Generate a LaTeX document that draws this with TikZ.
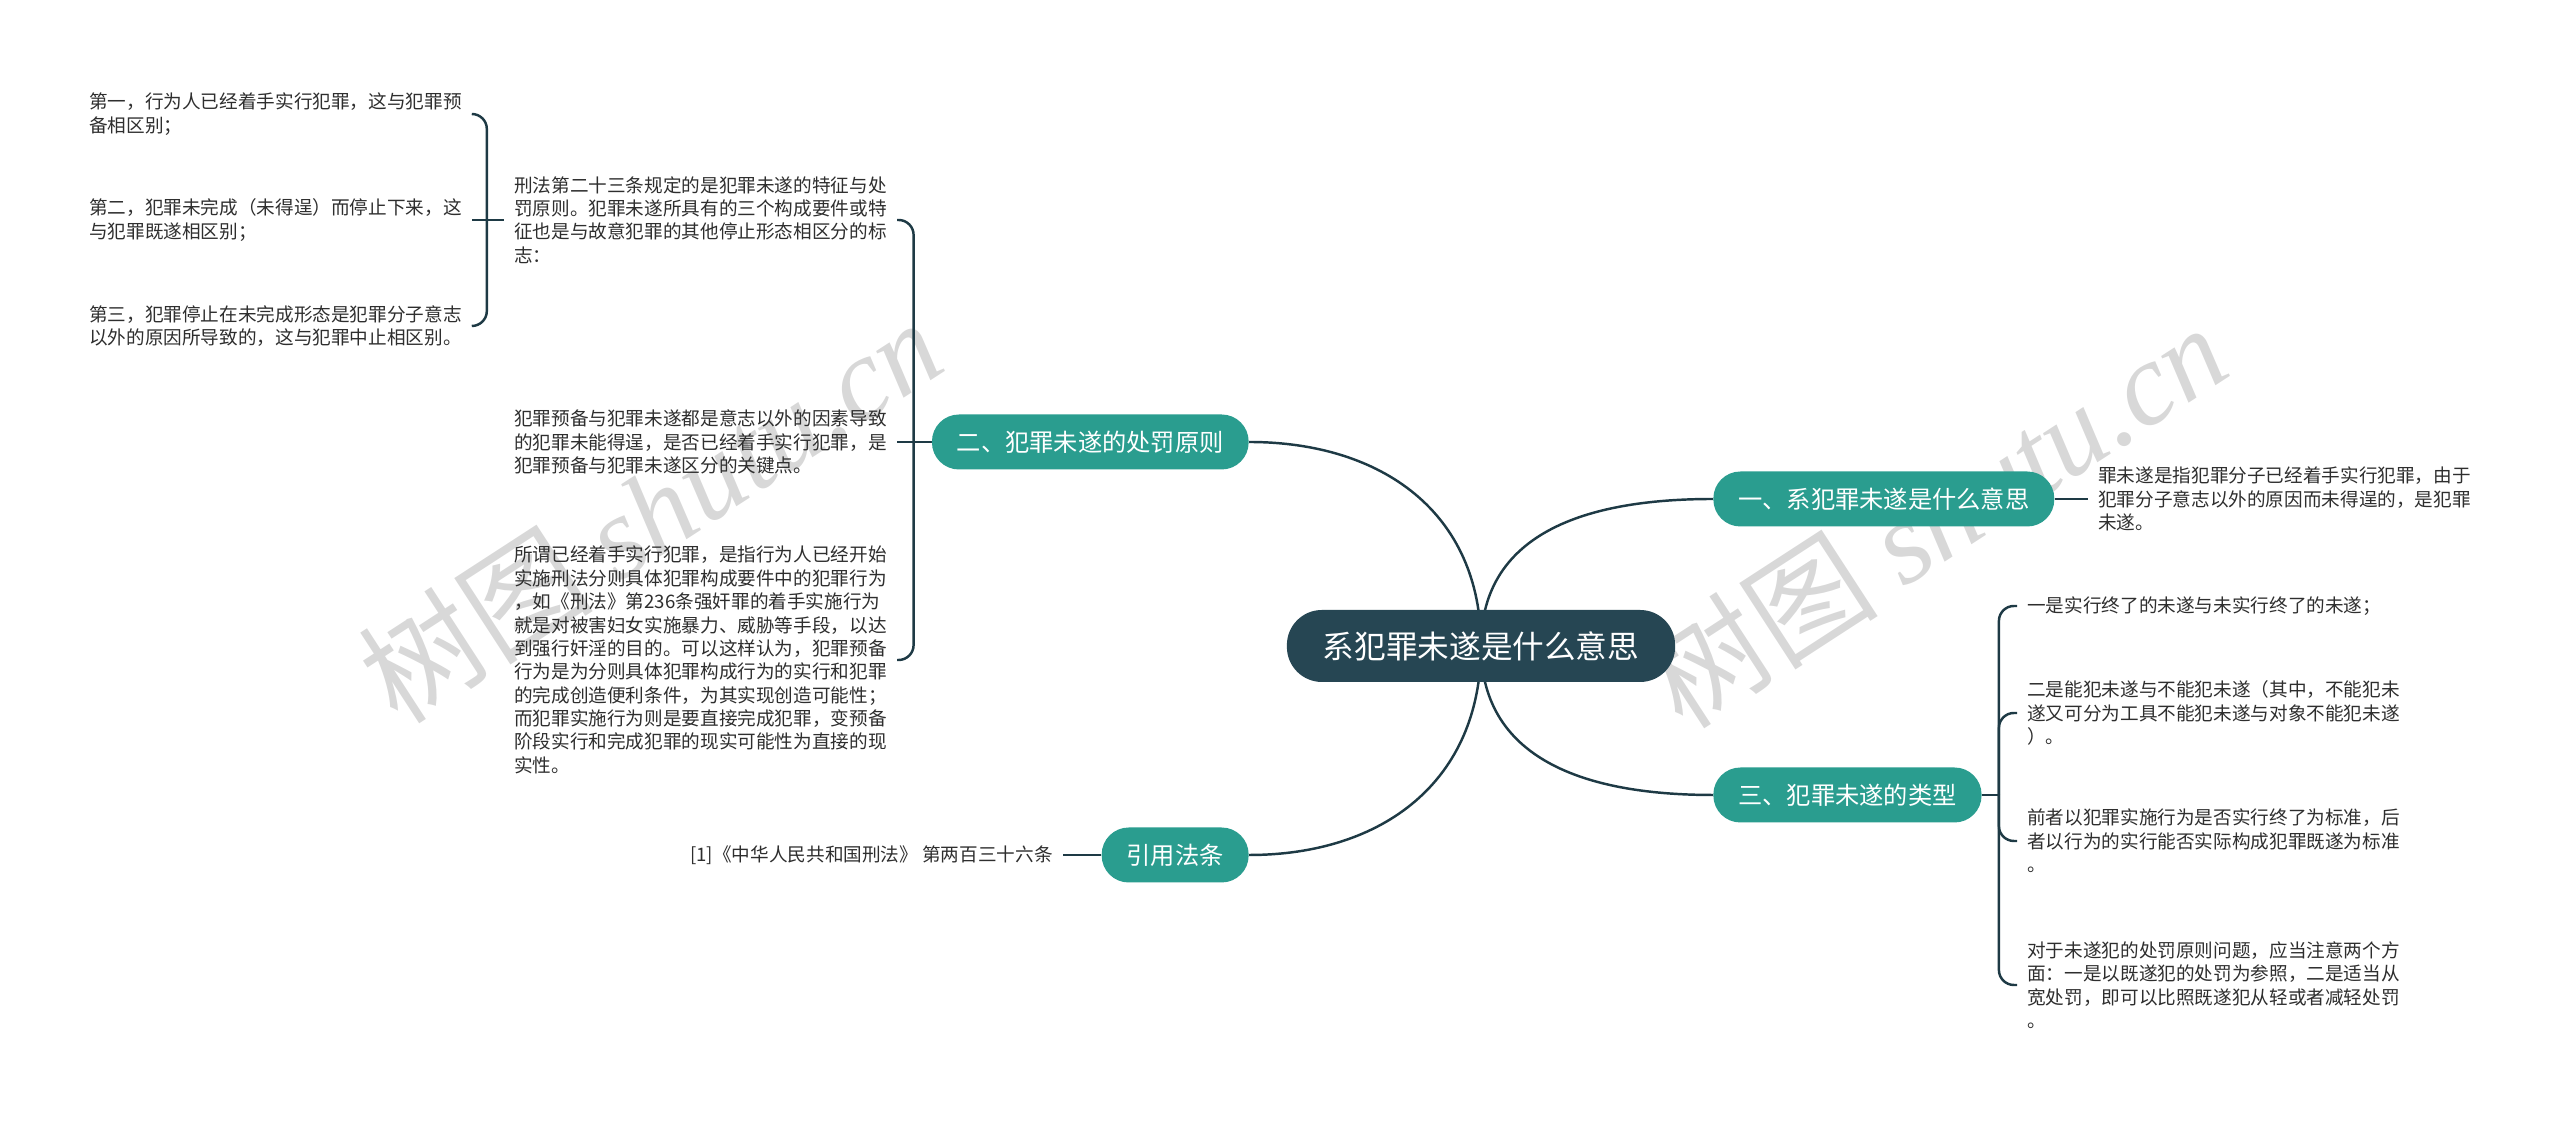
\documentclass[tikz,border=0pt]{standalone}
\usepackage{fontspec}
\setmainfont{Noto Sans CJK SC}
\newfontfamily\wmlatin{Liberation Serif}
\usepackage{tikz}
\usetikzlibrary{backgrounds}
\definecolor{rootbg}{HTML}{264653}
\definecolor{topicbg}{HTML}{2A9D8F}
\definecolor{linkc}{HTML}{1E3A45}
\definecolor{leaftxt}{HTML}{2E2E2E}
\definecolor{wmgray}{HTML}{D8D8D8}

\begin{document}
\begin{tikzpicture}[x=0.02cm,y=0.02cm,
  root/.style={fill=rootbg,text=white,rounded corners=0.7cm,minimum height=1.44cm,inner xsep=0.72cm,font=\fontsize{18pt}{20pt}\selectfont},
  topic/.style={fill=topicbg,text=white,rounded corners=0.54cm,minimum height=1.1cm,inner xsep=0.5cm,font=\fontsize{13.8pt}{16pt}\selectfont},
  leaf/.style={text=leaftxt,align=left,inner xsep=0.2cm,inner ysep=0pt,font=\fontsize{10.6pt}{13.3pt}\selectfont},
  link/.style={draw=linkc,line width=1.4pt},
  bracket/.style={link,rounded corners=0.3cm},
  wm/.style={text=wmgray,rotate=33,font=\fontsize{67pt}{67pt}\selectfont}]
 \useasboundingbox (0,0) rectangle (2560,1121);
 % centre and main topics
 \node[root] (ctr) at (1481,475) {系犯罪未遂是什么意思};
 \node[topic,anchor=east] (pen) at (1249,679) {二、犯罪未遂的处罚原则};
 \node[topic,anchor=west] (mean) at (1713,622) {一、系犯罪未遂是什么意思};
 \node[topic,anchor=west] (kind) at (1713,326) {三、犯罪未遂的类型};
 \node[topic,anchor=east] (cite) at (1249,266) {引用法条};
 % left side leaves
 \node[leaf,anchor=east] (art) at (897,901) {刑法第二十三条规定的是犯罪未遂的特征与处\\罚原则。犯罪未遂所具有的三个构成要件或特\\征也是与故意犯罪的其他停止形态相区分的标\\志：};
 \node[leaf,anchor=east] (c1) at (472,1007) {第一，行为人已经着手实行犯罪，这与犯罪预\\备相区别；};
 \node[leaf,anchor=east] (c2) at (472,901) {第二，犯罪未完成（未得逞）而停止下来，这\\与犯罪既遂相区别；};
 \node[leaf,anchor=east] (c3) at (472,795) {第三，犯罪停止在未完成形态是犯罪分子意志\\以外的原因所导致的，这与犯罪中止相区别。};
 \node[leaf,anchor=east] (prep) at (897,679) {犯罪预备与犯罪未遂都是意志以外的因素导致\\的犯罪未能得逞，是否已经着手实行犯罪，是\\犯罪预备与犯罪未遂区分的关键点。};
 \node[leaf,anchor=east] (act) at (897,461) {所谓已经着手实行犯罪，是指行为人已经开始\\实施刑法分则具体犯罪构成要件中的犯罪行为\\，如《刑法》第236条强奸罪的着手实施行为\\就是对被害妇女实施暴力、威胁等手段，以达\\到强行奸淫的目的。可以这样认为，犯罪预备\\行为是为分则具体犯罪构成行为的实行和犯罪\\的完成创造便利条件，为其实现创造可能性；\\而犯罪实施行为则是要直接完成犯罪，变预备\\阶段实行和完成犯罪的现实可能性为直接的现\\实性。};
 \node[leaf,anchor=east] (law) at (1063,266) {[1]《中华人民共和国刑法》 第两百三十六条};
 % right side leaves
 \node[leaf,anchor=west] (def) at (2088,622) {罪未遂是指犯罪分子已经着手实行犯罪，由于\\犯罪分子意志以外的原因而未得逞的，是犯罪\\未遂。};
 \node[leaf,anchor=west] (k1) at (2017,515) {一是实行终了的未遂与未实行终了的未遂；};
 \node[leaf,anchor=west] (k2) at (2017,408) {二是能犯未遂与不能犯未遂（其中，不能犯未\\遂又可分为工具不能犯未遂与对象不能犯未遂\\）。};
 \node[leaf,anchor=west] (k3) at (2017,280) {前者以犯罪实施行为是否实行终了为标准，后\\者以行为的实行能否实际构成犯罪既遂为标准\\。};
 \node[leaf,anchor=west] (k4) at (2017,136) {对于未遂犯的处罚原则问题，应当注意两个方\\面：一是以既遂犯的处罚为参照，二是适当从\\宽处罚，即可以比照既遂犯从轻或者减轻处罚\\。};
 \begin{scope}[on background layer]
  \node[wm] (wm1) at (650,611) {树图 {\wmlatin\itshape shutu.cn}};
  \node[wm] (wm2) at (1935,606) {树图 {\wmlatin\itshape shutu.cn}};
  \foreach \t/\a/\b in {pen.east/90/0,mean.west/90/180,kind.west/-90/180,cite.east/-90/0}
   \draw[link] (ctr.center) to[out=\a,in=\b,looseness=1.1] (\t);
  \draw[link] (pen.west) -- ++(-18,0) coordinate (b2);
  \foreach \c in {art,act} \draw[bracket] (b2) |- (\c.east);
  \draw[link] (b2) -- (prep.east);
  \draw[link] (art.west) -- ++(-17,0) coordinate (b1);
  \foreach \c in {c1,c3} \draw[bracket] (b1) |- (\c.east);
  \draw[link] (b1) -- (c2.east);
  \draw[link] (kind.east) -- ++(17,0) coordinate (b3);
  \foreach \c in {k1,k2,k3,k4} \draw[bracket] (b3) |- (\c.west);
  \draw[link] (mean.east) -- (def.west);
  \draw[link] (cite.west) -- (law.east);
 \end{scope}
\end{tikzpicture}
\end{document}
